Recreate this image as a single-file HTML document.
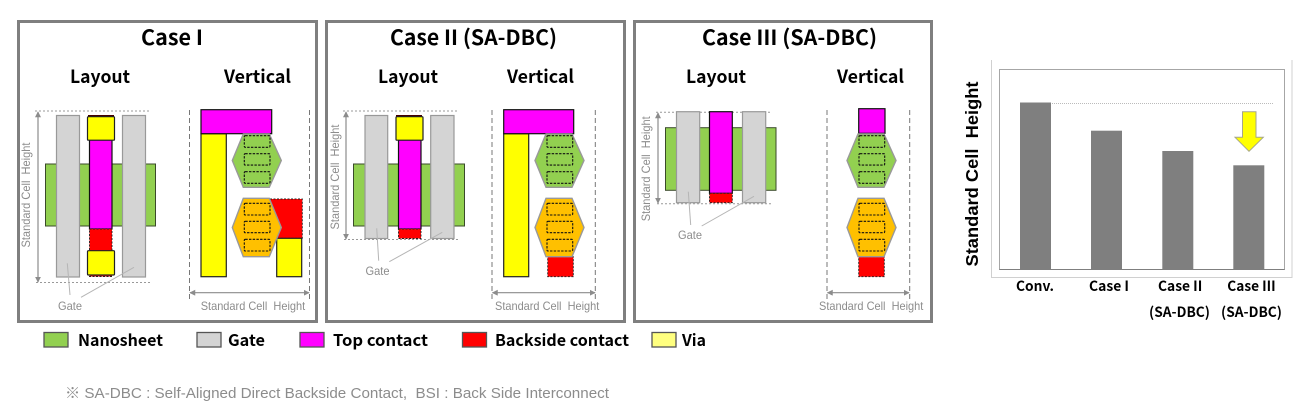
<!DOCTYPE html>
<html>
<head>
<meta charset="utf-8">
<style>
html,body{margin:0;padding:0;background:#fff;width:1310px;height:408px;overflow:hidden}
svg{display:block}
text{white-space:pre}
.t{font-family:"Liberation Sans","Noto Sans CJK KR",sans-serif;font-weight:700;fill:#000}
.k{font-family:"Noto Sans CJK KR","Liberation Sans",sans-serif;font-weight:700;fill:#000}
.g{font-family:"Liberation Sans",sans-serif;font-size:12px;fill:#8c8c8c}
.frame{fill:#fff;stroke:#7f7f7f;stroke-width:3}
.gate{fill:#d4d4d4;stroke:#999;stroke-width:1.2}
.nano{fill:#92d050;stroke:#3a4a2a;stroke-width:1}
.mag{fill:#f0f;stroke:#111;stroke-width:1.2}
.yel{fill:#ff0;stroke:#222;stroke-width:1.2}
.red{fill:#f00;stroke:#222;stroke-width:.9;stroke-dasharray:2 1.5}
.dot{stroke:#999;stroke-width:1;stroke-dasharray:2 2;fill:none}
.dash{stroke:#777;stroke-width:1;stroke-dasharray:5 3;fill:none}
.dim{stroke:#8c8c8c;stroke-width:1.2;fill:none}
.lead{stroke:#b5b5b5;stroke-width:1;fill:none}
.r{fill:none;stroke:#111;stroke-width:1.1;stroke-dasharray:2.4 1.3}
</style>
</head>
<body>
<svg width="1310" height="408" viewBox="0 0 1310 408" xmlns="http://www.w3.org/2000/svg">
<defs>
<marker id="a" viewBox="0 0 8 8" refX="7" refY="4" markerWidth="6" markerHeight="6" orient="auto-start-reverse" markerUnits="userSpaceOnUse"><path d="M0 0L8 4L0 8z" fill="#8c8c8c"/></marker>
<g id="hexes">
<polygon points="11,134 37,134 49,160.5 37,187.3 11,187.3 0,160.5" fill="#92d050" stroke="#999" stroke-width="1.4"/>
<rect class="r" x="12" y="135.7" width="25.7" height="11.6" rx="1"/>
<rect class="r" x="12" y="153.7" width="25.7" height="11.4" rx="1"/>
<rect class="r" x="12" y="171.7" width="25.7" height="11.6" rx="1"/>
<polygon points="11,198.3 37,198.3 49,227.5 37,256.7 11,256.7 0,227.5" fill="#ffc000" stroke="#999" stroke-width="1.4"/>
<rect class="r" x="12" y="203.3" width="25.7" height="11.7" rx="1"/>
<rect class="r" x="12" y="221.3" width="25.7" height="11.4" rx="1"/>
<rect class="r" x="12" y="239.3" width="25.7" height="11.7" rx="1"/>
</g>
</defs>

<!-- Frames -->
<rect class="frame" x="18.5" y="21.5" width="298" height="300"/>
<rect class="frame" x="326.5" y="21.5" width="298" height="300"/>
<rect class="frame" x="634.5" y="21.5" width="297" height="300"/>

<!-- Titles -->
<text class="k" x="141" y="45" font-size="21" textLength="62" lengthAdjust="spacingAndGlyphs">Case I</text>
<text class="k" x="390" y="45" font-size="21" textLength="167" lengthAdjust="spacingAndGlyphs">Case II (SA-DBC)</text>
<text class="k" x="702" y="45" font-size="21" textLength="175" lengthAdjust="spacingAndGlyphs">Case III (SA-DBC)</text>
<text class="k" x="70" y="83" font-size="18" textLength="60" lengthAdjust="spacingAndGlyphs">Layout</text>
<text class="k" x="224" y="83" font-size="18" textLength="67" lengthAdjust="spacingAndGlyphs">Vertical</text>
<text class="k" x="378" y="83" font-size="18" textLength="60" lengthAdjust="spacingAndGlyphs">Layout</text>
<text class="k" x="507" y="83" font-size="18" textLength="67" lengthAdjust="spacingAndGlyphs">Vertical</text>
<text class="k" x="686" y="83" font-size="18" textLength="60" lengthAdjust="spacingAndGlyphs">Layout</text>
<text class="k" x="837" y="83" font-size="18" textLength="67" lengthAdjust="spacingAndGlyphs">Vertical</text>

<!-- Case I layout -->
<line class="dot" x1="35" y1="111" x2="150" y2="111"/>
<line class="dot" x1="36" y1="282.5" x2="151" y2="282.5"/>
<line class="dim" x1="38" y1="112" x2="38" y2="282" marker-start="url(#a)" marker-end="url(#a)"/>
<rect class="nano" x="45.5" y="164" width="110" height="62"/>
<rect x="88" y="115" width="26" height="2" fill="#400"/>
<rect class="mag" x="89.5" y="140" width="22.5" height="89"/>
<rect class="red" x="89.5" y="229" width="22.5" height="47.5"/>
<rect class="gate" x="56.5" y="115.5" width="23" height="161.500"/>
<rect class="gate" x="122.5" y="115.5" width="23" height="161.500"/>
<rect class="yel" x="87.5" y="116.7" width="27" height="23.5" rx="1"/>
<rect class="yel" x="87.5" y="250.7" width="27" height="24.3" rx="1"/>
<text class="g" transform="translate(30,195) rotate(-90)" text-anchor="middle" textLength="105" lengthAdjust="spacingAndGlyphs">Standard Cell  Height</text>
<line class="lead" x1="67.3" y1="263.3" x2="70" y2="295"/>
<line class="lead" x1="134" y1="267.3" x2="81" y2="297.3"/>
<text class="g" x="58" y="310" textLength="24" lengthAdjust="spacingAndGlyphs">Gate</text>

<!-- Case I vertical -->
<line class="dash" x1="189.5" y1="110" x2="189.5" y2="299"/>
<line class="dash" x1="309.5" y1="110" x2="309.5" y2="299"/>
<line class="dim" x1="190" y1="292.7" x2="309" y2="292.7" marker-start="url(#a)" marker-end="url(#a)"/>
<rect class="yel" x="201" y="133.7" width="25.3" height="143"/>
<rect class="mag" x="201" y="109.7" width="70.7" height="24"/>
<polygon class="red" points="270,199 302.3,199 302.3,238.3 270,238.3"/>
<rect class="yel" x="276.7" y="238.3" width="25" height="38.4"/>
<use href="#hexes" transform="translate(232.3,0)"/>
<text class="g" x="200.7" y="310" textLength="104.5" lengthAdjust="spacingAndGlyphs">Standard Cell  Height</text>

<!-- Case II layout -->
<line class="dot" x1="343" y1="111" x2="459" y2="111"/>
<line class="dot" x1="344" y1="239.5" x2="460" y2="239.5"/>
<line class="dim" x1="346" y1="112" x2="346" y2="239" marker-start="url(#a)" marker-end="url(#a)"/>
<rect class="nano" x="353.5" y="164" width="111" height="62"/>
<rect x="396" y="115" width="26" height="2" fill="#400"/>
<rect class="mag" x="398.5" y="140" width="22.5" height="89"/>
<rect class="red" x="398.5" y="229" width="22.5" height="9.5"/>
<rect class="gate" x="365" y="115.5" width="22.7" height="123"/>
<rect class="gate" x="430.7" y="115.5" width="23.3" height="123"/>
<rect class="yel" x="396" y="116.7" width="27" height="23.5" rx="1"/>
<text class="g" transform="translate(339,177) rotate(-90)" text-anchor="middle" textLength="105" lengthAdjust="spacingAndGlyphs">Standard Cell  Height</text>
<line class="lead" x1="376.7" y1="228.3" x2="378.7" y2="260.7"/>
<line class="lead" x1="442.3" y1="232.3" x2="389.3" y2="261.7"/>
<text class="g" x="365.5" y="275" textLength="24" lengthAdjust="spacingAndGlyphs">Gate</text>

<!-- Case II vertical -->
<line class="dash" x1="492" y1="110" x2="492" y2="299"/>
<line class="dash" x1="595.3" y1="110" x2="595.3" y2="299"/>
<line class="dim" x1="492.5" y1="292.7" x2="595" y2="292.7" marker-start="url(#a)" marker-end="url(#a)"/>
<rect class="yel" x="503.7" y="133.7" width="25" height="143"/>
<rect class="mag" x="503.7" y="109.7" width="70" height="24"/>
<rect class="red" x="547.7" y="256.7" width="25.6" height="20"/>
<use href="#hexes" transform="translate(535,0)"/>
<text class="g" x="495" y="310" textLength="104.3" lengthAdjust="spacingAndGlyphs">Standard Cell  Height</text>

<!-- Case III layout -->
<line class="dot" x1="656" y1="112.3" x2="772" y2="112.3"/>
<line class="dot" x1="657" y1="203.7" x2="772" y2="203.7"/>
<line class="dim" x1="658" y1="113" x2="658" y2="203" marker-start="url(#a)" marker-end="url(#a)"/>
<rect class="nano" x="665.5" y="127.7" width="110.5" height="62.6"/>
<rect class="mag" x="709.5" y="111.7" width="22.8" height="81.6"/>
<rect class="red" x="709.5" y="193.3" width="22.8" height="9.4"/>
<rect class="gate" x="676.5" y="111.7" width="23.2" height="91"/>
<rect class="gate" x="742.5" y="111.7" width="23.2" height="91"/>
<text class="g" transform="translate(650,168.8) rotate(-90)" text-anchor="middle" textLength="105" lengthAdjust="spacingAndGlyphs">Standard Cell  Height</text>
<line class="lead" x1="688.3" y1="191.7" x2="690.7" y2="225"/>
<line class="lead" x1="754" y1="196.3" x2="701.7" y2="226"/>
<text class="g" x="678" y="239" textLength="24" lengthAdjust="spacingAndGlyphs">Gate</text>

<!-- Case III vertical -->
<line class="dash" x1="827" y1="110" x2="827" y2="299"/>
<line class="dash" x1="909.7" y1="110" x2="909.7" y2="299"/>
<line class="dim" x1="827.5" y1="292.7" x2="909" y2="292.7" marker-start="url(#a)" marker-end="url(#a)"/>
<rect class="mag" x="858.7" y="108.7" width="26.3" height="24.6"/>
<rect class="red" x="858.7" y="256.7" width="25.6" height="20"/>
<use href="#hexes" transform="translate(847,0)"/>
<text class="g" x="819" y="310" textLength="104.3" lengthAdjust="spacingAndGlyphs">Standard Cell  Height</text>

<!-- Legend -->
<rect x="44" y="332.5" width="24" height="14.5" fill="#92d050" stroke="#555" stroke-width="1.3"/>
<text class="k" x="78" y="346" font-size="16" textLength="85" lengthAdjust="spacingAndGlyphs">Nanosheet</text>
<rect x="197" y="332.5" width="24" height="14.5" fill="#d4d4d4" stroke="#555" stroke-width="1.3"/>
<text class="k" x="228" y="346" font-size="16" textLength="37" lengthAdjust="spacingAndGlyphs">Gate</text>
<rect x="300" y="332.5" width="24" height="14.5" fill="#f0f" stroke="#555" stroke-width="1.3"/>
<text class="k" x="333" y="346" font-size="16" textLength="95" lengthAdjust="spacingAndGlyphs">Top contact</text>
<rect x="462.5" y="332.5" width="24" height="14.5" fill="#f00" stroke="#555" stroke-width="1.3"/>
<text class="k" x="495" y="346" font-size="16" textLength="134" lengthAdjust="spacingAndGlyphs">Backside contact</text>
<rect x="652" y="332.5" width="24" height="14.5" fill="#ffff7f" stroke="#555" stroke-width="1.3"/>
<text class="k" x="682" y="346" font-size="16" textLength="24" lengthAdjust="spacingAndGlyphs">Via</text>

<!-- Note -->
<text x="65" y="398" font-family="'Liberation Sans','Noto Sans CJK KR',sans-serif" font-size="15" fill="#8c8c8c" textLength="544" lengthAdjust="spacingAndGlyphs">※ SA-DBC : Self-Aligned Direct Backside Contact,  BSI : Back Side Interconnect</text>

<!-- Chart -->
<path d="M991.5 60V277.5H1292V60" fill="none" stroke="#d0d0d0"/>
<rect x="999.5" y="69.5" width="285" height="200" fill="#fff" stroke="#a6a6a6"/>
<line x1="1052" y1="103.5" x2="1273" y2="103.5" stroke="#bbb" stroke-dasharray="1 1"/>
<rect x="1020" y="102.5" width="31" height="167" fill="#7f7f7f"/>
<rect x="1091" y="130.7" width="31" height="138.8" fill="#7f7f7f"/>
<rect x="1162.3" y="151" width="31" height="118.5" fill="#7f7f7f"/>
<rect x="1233.3" y="165.3" width="31" height="104.2" fill="#7f7f7f"/>
<line x1="999.5" y1="269.5" x2="1284.5" y2="269.5" stroke="#7f7f7f"/>
<polygon points="1242.5,111.7 1256,111.7 1256,137.3 1263.3,137.3 1249,151.3 1235,137.3 1242.5,137.3" fill="#ff0" stroke="#a6a68c"/>
<text class="t" transform="translate(978,174) rotate(-90)" text-anchor="middle" font-size="17.5" textLength="185" lengthAdjust="spacingAndGlyphs">Standard Cell  Height</text>
<text class="k" x="1016" y="291" font-size="14" textLength="38" lengthAdjust="spacingAndGlyphs">Conv.</text>
<text class="k" x="1089" y="291" font-size="14" textLength="40" lengthAdjust="spacingAndGlyphs">Case I</text>
<text class="k" x="1158" y="291" font-size="14" textLength="44.3" lengthAdjust="spacingAndGlyphs">Case II</text>
<text class="k" x="1227.3" y="291" font-size="14" textLength="48.4" lengthAdjust="spacingAndGlyphs">Case III</text>
<text class="k" x="1149" y="317" font-size="14" textLength="61" lengthAdjust="spacingAndGlyphs">(SA-DBC)</text>
<text class="k" x="1221" y="317" font-size="14" textLength="61" lengthAdjust="spacingAndGlyphs">(SA-DBC)</text>
</svg>
</body>
</html>
